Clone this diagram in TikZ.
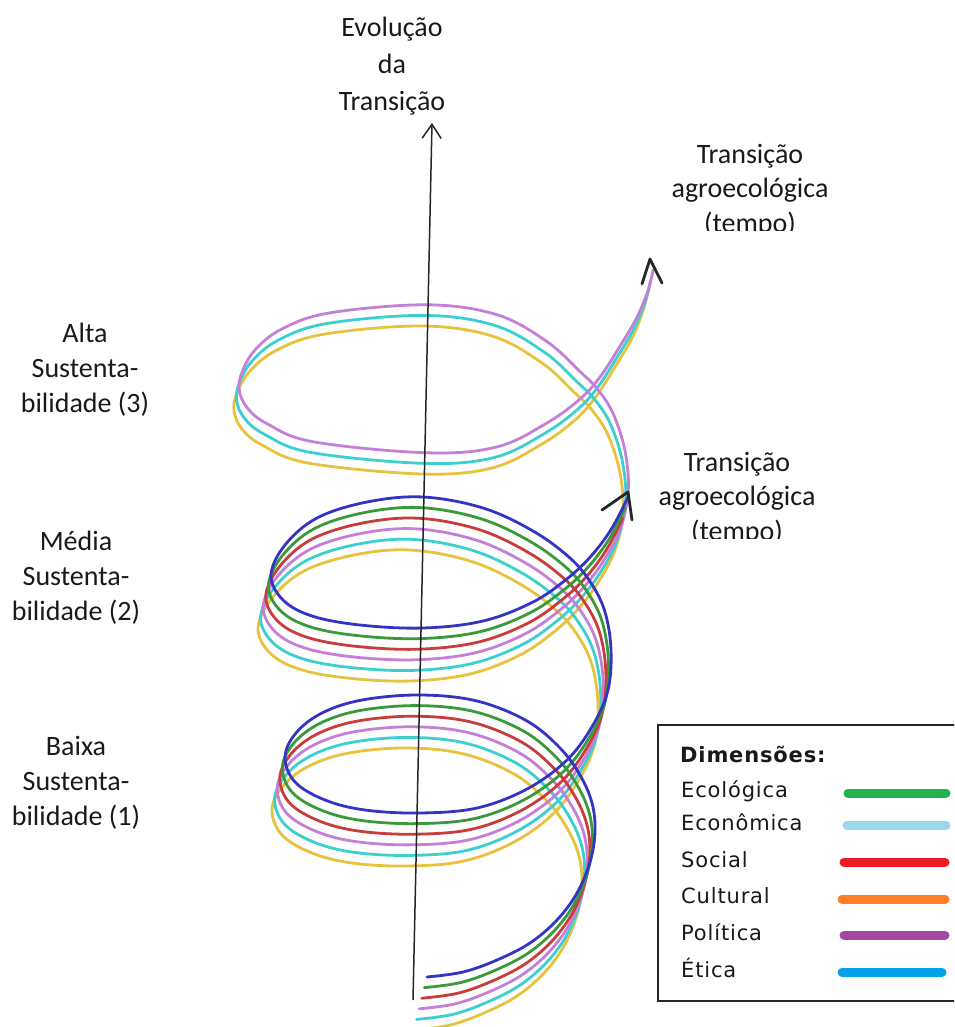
\documentclass[tikz,border=0pt]{standalone}
\usepackage{fontspec}
\setmainfont{Carlito}
\newfontfamily\legendfont{DejaVu Sans}[LetterSpace=4]
\usetikzlibrary{arrows.meta}

% spiral strand colours
\definecolor{hblue}{HTML}{3434C4}
\definecolor{hgreen}{HTML}{3A9A3A}
\definecolor{hred}{HTML}{C83C3C}
\definecolor{hviolet}{HTML}{C47FD8}
\definecolor{hcyan}{HTML}{3CCFCF}
\definecolor{hyellow}{HTML}{E6C23E}
% legend swatch colours
\definecolor{lgreen}{HTML}{22B14C}
\definecolor{llight}{HTML}{99D9EA}
\definecolor{lred}{HTML}{ED1C24}
\definecolor{lorange}{HTML}{FF7F27}
\definecolor{lpurple}{HTML}{A349A4}
\definecolor{lblue}{HTML}{00A2E8}

\begin{document}
\begin{tikzpicture}[x=1pt,y=-1pt,
  strand/.style={line width=2.8pt, line cap=round, line join=round},
  vtip/.style={line width=2.8pt, line cap=round, line join=round, black!85},
  axisline/.style={line width=1.5pt, black!85,
    -{Straight Barb[length=14pt,width=19pt]}},
  lbl/.style={font=\fontsize{28}{35}\selectfont, align=center, anchor=base,
    inner sep=0pt, text=black!90},
  legtext/.style={font=\legendfont\fontsize{21}{24}\selectfont, anchor=base west,
    inner sep=0pt, text=black!90},
  legline/.style={line width=9pt, line cap=round},
  legbox/.style={line width=2pt, black!85}]

\useasboundingbox (0,0) rectangle (954,1027);
\clip (0,0) rectangle (954,1027);

% three outer strands run the whole spiral, up to the top arrow
\foreach \c/\k in {hyellow/5, hcyan/4, hviolet/3}{
  \draw[strand, \c, yshift={-\k*10.6pt}, xshift={-\k*2.6pt}]
    plot[smooth, tension=0.6] coordinates {
    (427,977) (463,972) (497,960) (530,943) (557,920) (577,893) (590,862)
    (595,832) (592,803) (580,775) (560,748) (527,721) (477,701) (420,695)
    (362,700) (322,713) (296,733) (285,757) (295,782) (325,800) (365,810)
    (420,813) (477,808) (527,789) (567,760) (593,725) (608,690) (611,650)
    (605,612) (591,583) (570,558) (533,531) (483,508) (423,497) (367,502)
    (317,518) (285,545) (271,575) (283,600) (312,616) (360,625) (423,628)
    (483,621) (533,602) (568,578) (592,555) (612,528) (628,497)
    (636,460) (633,420) (621,382) (605,357) (588,340) (555,310) (505,283)
    (435,273) (338,281) (290,297) (263,318) (250,340) (247,358) (255,376)
    (275,392) (321,410) (435,421) (505,415) (555,391) (588,367) (608,345)
    (628,314) (645,285) (656,258) (661,238)};
}
% three inner strands stop at the middle arrow
\foreach \c/\k in {hred/2, hgreen/1, hblue/0}{
  \draw[strand, \c, yshift={-\k*10.6pt}, xshift={-\k*2.6pt}]
    plot[smooth, tension=0.6] coordinates {
    (427,977) (463,972) (497,960) (530,943) (557,920) (577,893) (590,862)
    (595,832) (592,803) (580,775) (560,748) (527,721) (477,701) (420,695)
    (362,700) (322,713) (296,733) (285,757) (295,782) (325,800) (365,810)
    (420,813) (477,808) (527,789) (567,760) (593,725) (608,690) (611,650)
    (605,612) (591,583) (570,558) (533,531) (483,508) (423,497) (367,502)
    (317,518) (285,545) (271,575) (283,600) (312,616) (360,625) (423,628)
    (483,621) (533,602) (568,578) (592,555) (612,528) (628,497)};
}

% arrowheads of the spiral
\draw[vtip] (602,510) -- (628,492) -- (632,520);
\draw[vtip] (642,284) -- (650,259) -- (662,283);

% vertical axis
\coordinate (axbot) at (413,1000);
\coordinate (axtop) at (432,123);
\draw[axisline] (axbot) -- (axtop);

% labels (anchored on the baseline of their last line)
\node[lbl] (evol) at (392,111) {Evolução\\[2pt]da\\[2pt]Transição};
\node[lbl] (alta) at (85,412) {Alta\\Sustenta-\\bilidade (3)};
\node[lbl] (media) at (76,620) {Média\\Sustenta-\\bilidade (2)};
\node[lbl] (baixa) at (76,825) {Baixa\\Sustenta-\\bilidade (1)};
\begin{scope}
  \clip (640,120) rectangle (954,230);
  \node[lbl] (tempoA) at (750,232) {Transição\\[-0.5pt]agroecológica\\[-0.5pt](tempo)};
\end{scope}
\begin{scope}
  \clip (620,430) rectangle (954,538);
  \node[lbl] (tempoB) at (737,540) {Transição\\[-0.5pt]agroecológica\\[-0.5pt](tempo)};
\end{scope}

% legend
\draw[legbox] (658,725) rectangle (1000,1001);
\node[legtext, font=\legendfont\bfseries\fontsize{21}{24}\selectfont] (lhead) at (680,762) {Dimensões:};
\node[legtext] (leco)  at (681,797) {Ecológica};
\node[legtext] (lecon) at (681,830) {Econômica};
\node[legtext] (lsoc)  at (681,867) {Social};
\node[legtext] (lcult) at (681,903) {Cultural};
\node[legtext] (lpol)  at (681,940) {Política};
\node[legtext] (letic) at (681,977) {Ética};
\draw[legline, lgreen]  (848,793) -- (946,793);
\draw[legline, llight]  (847,825) -- (946,825);
\draw[legline, lred]    (844,862) -- (945,862);
\draw[legline, lorange] (842,899) -- (945,899);
\draw[legline, lpurple] (844,935) -- (945,935);
\draw[legline, lblue]   (842,972) -- (942,972);
\end{tikzpicture}
\end{document}
